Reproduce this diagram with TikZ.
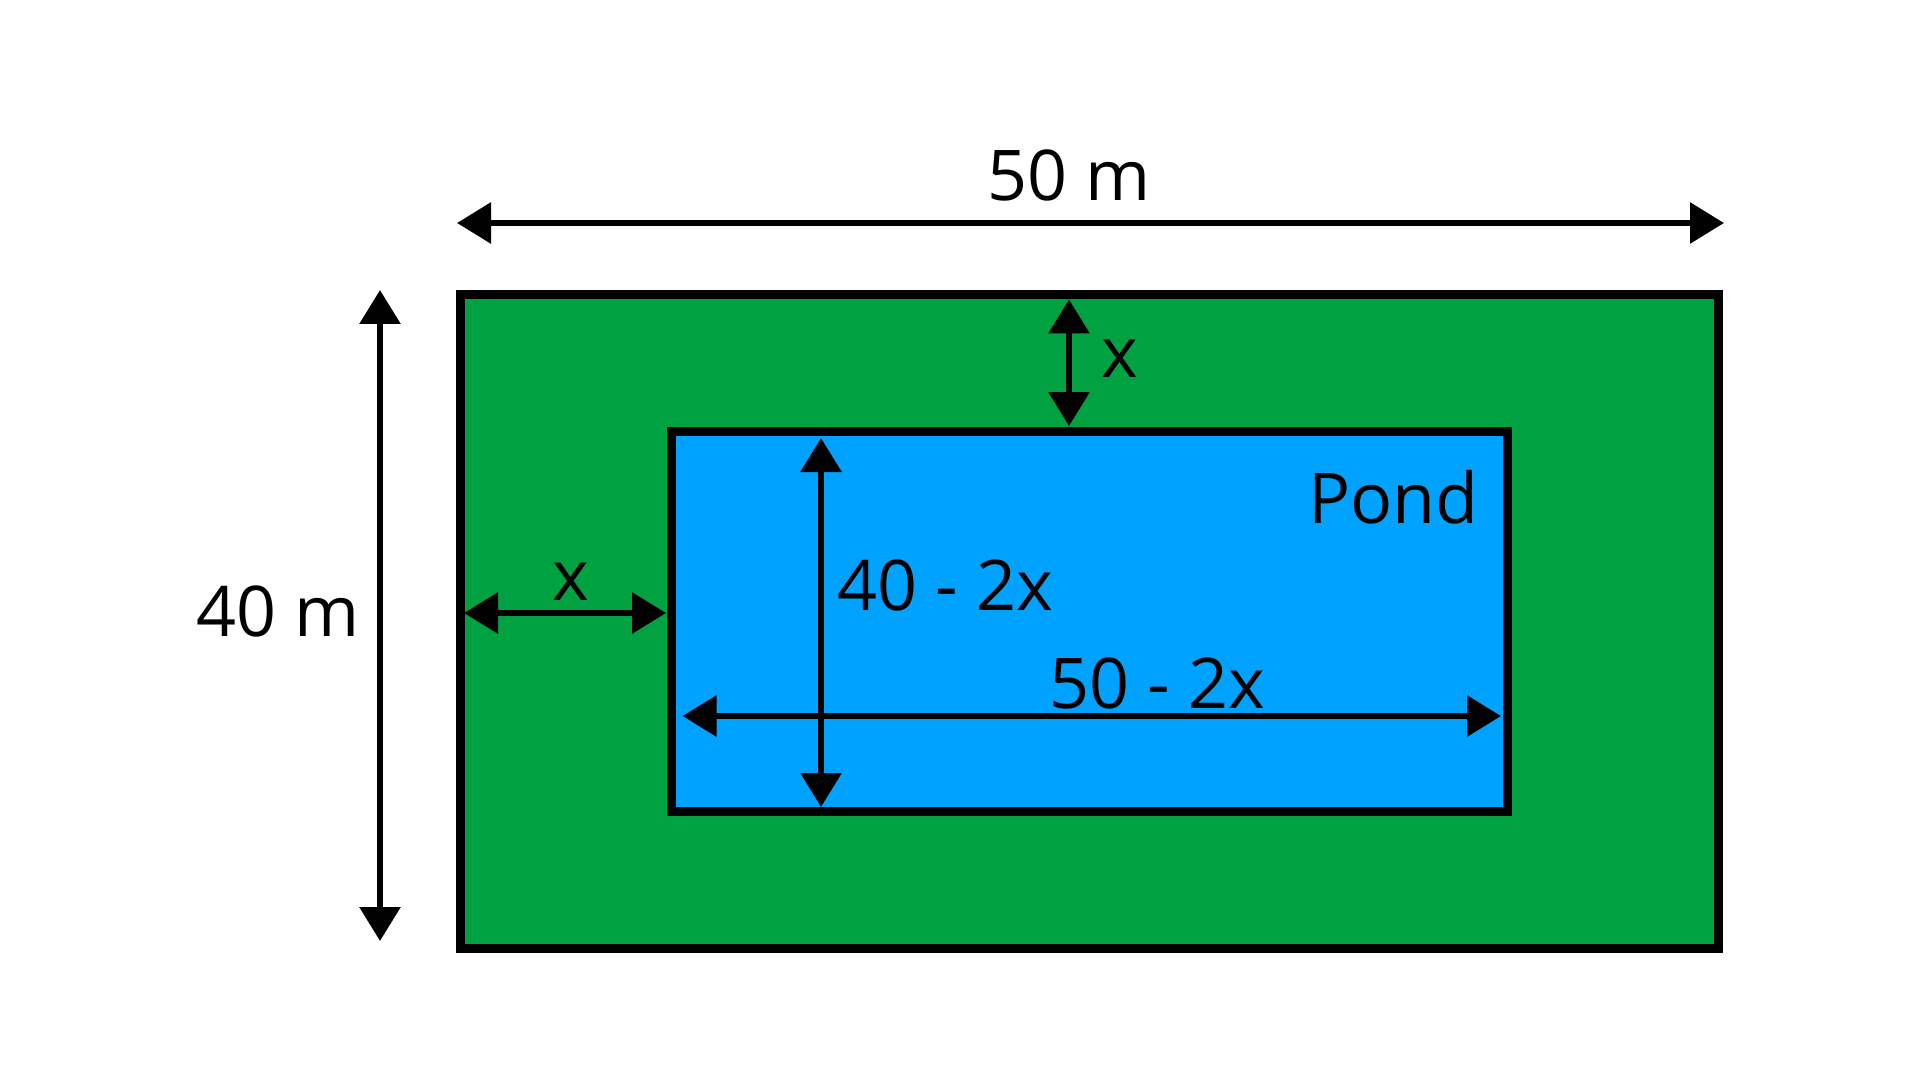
\documentclass[tikz,border=0pt]{standalone}
\usepackage{fontspec}
\setmainfont{Open Sans}
\usetikzlibrary{arrows.meta}
\definecolor{lawn}{RGB}{0,161,64}
\definecolor{water}{RGB}{0,162,255}

\begin{document}
\begin{tikzpicture}[x=0.5pt,y=-0.5pt]
\tikzset{border/.style={line width=4.5pt,draw=black}}
\tikzset{dim/.style={line width=3pt,{Triangle[length=17pt,width=20pt]}-{Triangle[length=17pt,width=20pt]}}}
\tikzset{lbl/.style={inner sep=0pt,anchor=base,font=\fontsize{35pt}{42pt}\selectfont}}

\useasboundingbox (0,0) rectangle (1920,1080);
\fill[white] (0,0) rectangle (1920,1080);

\draw[border,fill=lawn] (460,295) rectangle (1718,948);
\draw[border,fill=water] (671,431) rectangle (1507,811.5);

\coordinate (wl) at (457,223);
\coordinate (wr) at (1724,223);
\coordinate (ht) at (380,290);
\coordinate (hb) at (380,941);
\coordinate (gl) at (464,613);
\coordinate (pl) at (666,613);
\coordinate (gt) at (1069,299.5);
\coordinate (pt) at (1069,426);
\coordinate (pwl) at (682.5,716);
\coordinate (pwr) at (1501,716);
\coordinate (pht) at (821,438);
\coordinate (phb) at (821,807);

\draw[dim] (wl) -- (wr);
\draw[dim] (ht) -- (hb);
\draw[dim] (gl) -- (pl);
\draw[dim] (gt) -- (pt);
\draw[dim] (pwl) -- (pwr);
\draw[dim] (pht) -- (phb);

\node[lbl] (wlab) at (1069,201) {50 m};
\node[lbl,anchor=base east] (hlab) at (360,636) {40 m};
\node[lbl] (xleft) at (571,600) {x};
\node[lbl] (xtop) at (1120,378) {x};
\node[lbl,anchor=base west] (phlab) at (837,610) {40 - 2x};
\node[lbl] (pwlab) at (1157,708) {50 - 2x};
\node[lbl,anchor=base east] (pond) at (1479,523) {Pond};

\end{tikzpicture}
\end{document}
